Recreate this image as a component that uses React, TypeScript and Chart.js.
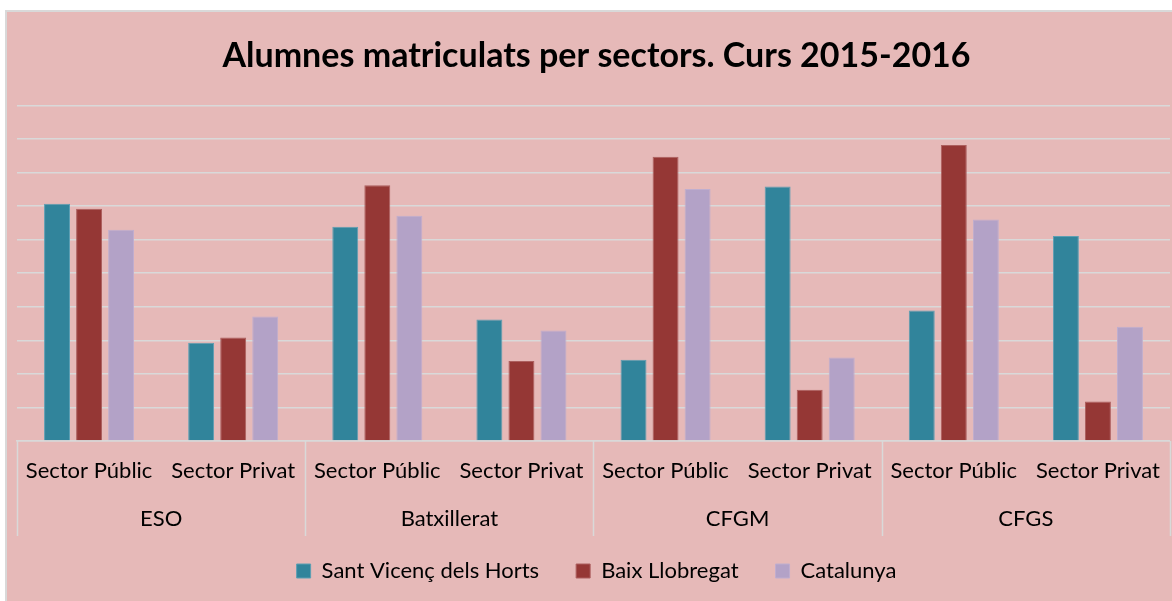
import React, { useEffect, useRef } from "react";
import { Chart, registerables } from "chart.js";

Chart.register(...registerables);

const TITLE = "Alumnes matriculats per sectors. Curs 2015-2016";
const sectors = [
  "Sector Públic", "Sector Privat",
  "Sector Públic", "Sector Privat",
  "Sector Públic", "Sector Privat",
  "Sector Públic", "Sector Privat",
];
const groups = ["ESO", "Batxillerat", "CFGM", "CFGS"];
const santVicenc = [70.7, 29.3, 63.8, 36.2, 24.2, 75.8, 38.9, 61.1];
const baixLlobregat = [69.2, 30.8, 76.2, 23.8, 84.7, 15.3, 88.2, 11.8];
const catalunya = [62.9, 37.1, 67.1, 32.9, 75.1, 24.9, 66.0, 34.0];
const yTicks = [0, 10, 20, 30, 40, 50, 60, 70, 80, 90, 100];

const FONT = "Lato, 'Open Sans', sans-serif";

// Draws the second level of the category axis (group names) and the group separators,
// positioned with the x scale.
const groupAxisPlugin = {
  id: "groupAxis",
  afterDraw(chart: any) {
    const x = chart.scales.x;
    const area = chart.chartArea;
    if (!x) return;
    const ctx = chart.ctx;
    const per = sectors.length / groups.length;
    const half = (x.getPixelForValue(1) - x.getPixelForValue(0)) / 2;
    ctx.save();
    ctx.strokeStyle = "#D9D9D9";
    ctx.lineWidth = 1.5;
    for (let g = 0; g <= groups.length; g++) {
      const idx = Math.min(g * per, sectors.length - 1);
      const px = Math.round(x.getPixelForValue(idx) + (g * per >= sectors.length ? half : -half)) + 0.5;
      ctx.beginPath();
      ctx.moveTo(px, area.bottom);
      ctx.lineTo(px, area.bottom + 95);
      ctx.stroke();
    }
    ctx.fillStyle = "#000000";
    ctx.font = `22px ${FONT}`;
    ctx.textAlign = "center";
    ctx.textBaseline = "middle";
    groups.forEach((name, g) => {
      const a = x.getPixelForValue(g * per);
      const b = x.getPixelForValue(g * per + per - 1);
      ctx.fillText(name, (a + b) / 2, area.bottom + 78);
    });
    ctx.restore();
  },
};

export default function App() {
  const ref = useRef<HTMLCanvasElement>(null);
  useEffect(() => {
    if (!ref.current) return;
    const chart = new Chart(ref.current, {
      type: "bar",
      data: {
        labels: sectors,
        datasets: [
          { label: "Sant Vicenç dels Horts", data: santVicenc, backgroundColor: "#31849B", borderColor: "#5C9FB3", borderWidth: 1 },
          { label: "Baix Llobregat", data: baixLlobregat, backgroundColor: "#953735", borderColor: "#AC5F5E", borderWidth: 1 },
          { label: "Catalunya", data: catalunya, backgroundColor: "#B3A2C7", borderColor: "#BFAECF", borderWidth: 1 },
        ],
      },
      options: {
        responsive: false,
        animation: false,
        events: [],
        layout: { padding: { left: 10, right: 1, top: 0, bottom: 9 } },
        datasets: { bar: { categoryPercentage: 0.667, barPercentage: 0.81 } },
        plugins: {
          title: {
            display: true,
            text: TITLE,
            color: "#000000",
            font: { family: FONT, size: 34, weight: "bold", lineHeight: 1.2 },
            padding: { top: 23.6, bottom: 28.9 },
          },
          legend: {
            position: "bottom",
            labels: {
              color: "#000000",
              font: { family: FONT, size: 22 },
              boxWidth: 14,
              boxHeight: 14,
              padding: 37,
            },
          },
          tooltip: { enabled: false },
        },
        scales: {
          y: {
            min: 0,
            max: 100,
            afterBuildTicks: (s: any) => { s.ticks = yTicks.map((v) => ({ value: v })); },
            ticks: { display: false },
            border: { display: false },
            grid: { color: "#D9D9D9", lineWidth: 1.5, drawTicks: false },
          },
          x: {
            border: { display: true, color: "#D9D9D9", width: 1.5 },
            grid: { display: false, drawTicks: false },
            ticks: { color: "#000000", font: { family: FONT, size: 22, lineHeight: 1.2 }, padding: 17, maxRotation: 0, autoSkip: false },
            afterFit: (s: any) => { s.height = 82; },
          },
        },
      },
      plugins: [groupAxisPlugin],
    } as any);
    return () => chart.destroy();
  }, []);

  return (
    <div style={{ position: "fixed", left: 0, top: 0, width: 1172, height: 601, background: "#FFFFFF", overflow: "hidden" }}>
      <div
        style={{
          position: "absolute",
          left: 5,
          top: 10,
          width: 1167,
          height: 591,
          borderLeft: "2px solid #D9D9D9",
          borderTop: "2px solid #D9D9D9",
          background: "#E6B9B8",
          overflow: "hidden",
        }}
      >
        <canvas ref={ref} width={1170} height={589} style={{ display: "block" }} />
      </div>
    </div>
  );
}
